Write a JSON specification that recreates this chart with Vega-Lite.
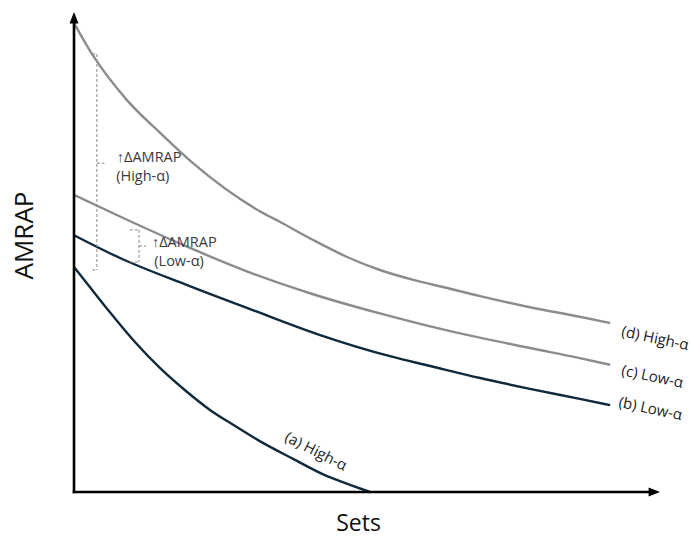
{
  "$schema": "https://vega.github.io/schema/vega-lite/v6.json",
  "width": 586,
  "height": 480,
  "autosize": {"type": "none"},
  "padding": {"left": 74, "top": 12, "right": 33, "bottom": 45},
  "background": "white",
  "config": {"view": {"stroke": null}, "font": "Open Sans"},
  "datasets": {
    "curves": [
      {"series": "d", "x": 0, "y": 97.7}, {"series": "d", "x": 0.32, "y": 91.0}, {"series": "d", "x": 0.9, "y": 81.7},
      {"series": "d", "x": 1.47, "y": 74.8}, {"series": "d", "x": 2.03, "y": 68.5}, {"series": "d", "x": 3.17, "y": 58.5},
      {"series": "d", "x": 3.52, "y": 56.25}, {"series": "d", "x": 4.08, "y": 52.5}, {"series": "d", "x": 4.66, "y": 48.96},
      {"series": "d", "x": 5.22, "y": 46.25}, {"series": "d", "x": 5.79, "y": 44.2}, {"series": "d", "x": 6.37, "y": 42.5},
      {"series": "d", "x": 6.93, "y": 40.8}, {"series": "d", "x": 7.78, "y": 38.5}, {"series": "d", "x": 8.63, "y": 36.5},
      {"series": "d", "x": 9.15, "y": 35.2},
      {"series": "c", "x": 0, "y": 61.9}, {"series": "c", "x": 0.785, "y": 57.4}, {"series": "c", "x": 1.93, "y": 51.1},
      {"series": "c", "x": 3.05, "y": 45.5}, {"series": "c", "x": 4.08, "y": 41.2}, {"series": "c", "x": 5.22, "y": 37.2},
      {"series": "c", "x": 6.42, "y": 33.5}, {"series": "c", "x": 7.78, "y": 30.0}, {"series": "c", "x": 8.63, "y": 27.9},
      {"series": "c", "x": 9.15, "y": 26.5},
      {"series": "b", "x": 0, "y": 53.5}, {"series": "b", "x": 0.785, "y": 48.75}, {"series": "b", "x": 1.93, "y": 43.1},
      {"series": "b", "x": 3.05, "y": 37.9}, {"series": "b", "x": 4.2, "y": 32.7}, {"series": "b", "x": 5.39, "y": 28.3},
      {"series": "b", "x": 6.08, "y": 26.25}, {"series": "b", "x": 6.93, "y": 23.75}, {"series": "b", "x": 7.78, "y": 21.5},
      {"series": "b", "x": 8.63, "y": 19.4}, {"series": "b", "x": 9.15, "y": 18.1},
      {"series": "a", "x": 0, "y": 46.9}, {"series": "a", "x": 0.31, "y": 42.1}, {"series": "a", "x": 0.61, "y": 37.5},
      {"series": "a", "x": 1.04, "y": 31.25}, {"series": "a", "x": 1.47, "y": 25.8}, {"series": "a", "x": 1.89, "y": 21.25},
      {"series": "a", "x": 2.32, "y": 17.1}, {"series": "a", "x": 2.75, "y": 13.75}, {"series": "a", "x": 3.17, "y": 10.6},
      {"series": "a", "x": 3.74, "y": 6.9}, {"series": "a", "x": 4.32, "y": 3.3}, {"series": "a", "x": 4.71, "y": 1.5},
      {"series": "a", "x": 5.05, "y": 0}
    ],
    "brackets": [
      {"x": 0.39, "x2": 0.39, "y": 91.25, "y2": 46.25},
      {"x": 0.31, "x2": 0.39, "y": 91.25, "y2": 91.25},
      {"x": 0.31, "x2": 0.39, "y": 46.25, "y2": 46.25},
      {"x": 0.39, "x2": 0.52, "y": 68.5, "y2": 68.5},
      {"x": 1.11, "x2": 1.11, "y": 54.6, "y2": 47.9},
      {"x": 0.95, "x2": 1.11, "y": 54.6, "y2": 54.6},
      {"x": 0.95, "x2": 1.11, "y": 47.9, "y2": 47.9},
      {"x": 1.11, "x2": 1.23, "y": 51.25, "y2": 51.25}
    ],
    "bracketText": [
      {"x": 0.73, "y": 69.6, "t": "↑ΔAMRAP"},
      {"x": 0.72, "y": 65.6, "t": "(High-α)"},
      {"x": 1.33, "y": 51.9, "t": "↑ΔAMRAP"},
      {"x": 1.37, "y": 47.9, "t": "(Low-α)"}
    ],
    "endLabels": [
      {"x": 9.35, "y": 33.5, "t": "(d) High-α"},
      {"x": 9.35, "y": 25.4, "t": "(c) Low-α"},
      {"x": 9.3, "y": 18.75, "t": "(b) Low-α"}
    ],
    "aLabel": [{"x": 4.13, "y": 8.5, "t": "(a) High-α"}],
    "axisLines": [
      {"x": 0, "x2": 0, "y": 0, "y2": 98.2},
      {"x": 0, "x2": 9.86, "y": 0, "y2": 0}
    ],
    "arrowUp": [{"x": 0, "y": 98.75}],
    "arrowRight": [{"x": 9.898, "y": 0}]
  },
  "layer": [
    {
      "data": {"name": "curves"},
      "mark": {"type": "line", "interpolate": "monotone", "strokeWidth": 2.4},
      "encoding": {
        "x": {"field": "x", "type": "quantitative", "scale": {"domain": [0, 10], "nice": false, "zero": false},
              "axis": {"title": "Sets", "domain": false, "ticks": false, "labels": false, "grid": false,
                       "titleFontSize": 23, "titleFontWeight": "normal", "titleColor": "#111", "titleBaseline": "alphabetic", "titlePadding": 38, "titleX": 284}},
        "y": {"field": "y", "type": "quantitative", "scale": {"domain": [0, 100], "nice": false, "zero": false},
              "axis": {"title": "AMRAP", "domain": false, "ticks": false, "labels": false, "grid": false,
                       "titleFontSize": 26, "titleFontWeight": "normal", "titleColor": "#111", "titlePadding": 37, "titleY": 223}},
        "color": {"field": "series", "type": "nominal",
                  "scale": {"domain": ["a", "b", "c", "d"], "range": ["#0f2a3c", "#0f2a3c", "#8c8c8c", "#8c8c8c"]},
                  "legend": null},
        "detail": {"field": "series"}
      }
    },
    {
      "data": {"name": "brackets"},
      "mark": {"type": "rule", "strokeDash": [3, 2], "strokeWidth": 1, "color": "#8c8c8c"},
      "encoding": {
        "x": {"field": "x", "type": "quantitative"},
        "x2": {"field": "x2"},
        "y": {"field": "y", "type": "quantitative"},
        "y2": {"field": "y2"}
      }
    },
    {
      "data": {"name": "bracketText"},
      "mark": {"type": "text", "align": "left", "baseline": "middle", "fontSize": 14.5, "color": "#3a3a3a"},
      "encoding": {
        "x": {"field": "x", "type": "quantitative"},
        "y": {"field": "y", "type": "quantitative"},
        "text": {"field": "t"}
      }
    },
    {
      "data": {"name": "endLabels"},
      "mark": {"type": "text", "align": "left", "baseline": "middle", "fontSize": 15, "angle": 12, "color": "#222"},
      "encoding": {
        "x": {"field": "x", "type": "quantitative"},
        "y": {"field": "y", "type": "quantitative"},
        "text": {"field": "t"}
      }
    },
    {
      "data": {"name": "aLabel"},
      "mark": {"type": "text", "align": "center", "baseline": "middle", "fontSize": 15, "angle": 27, "color": "#222"},
      "encoding": {
        "x": {"field": "x", "type": "quantitative"},
        "y": {"field": "y", "type": "quantitative"},
        "text": {"field": "t"}
      }
    },
    {
      "data": {"name": "axisLines"},
      "mark": {"type": "rule", "strokeWidth": 2.6, "color": "#000", "strokeCap": "square"},
      "encoding": {
        "x": {"field": "x", "type": "quantitative"},
        "x2": {"field": "x2"},
        "y": {"field": "y", "type": "quantitative"},
        "y2": {"field": "y2"}
      }
    },
    {
      "data": {"name": "arrowUp"},
      "mark": {"type": "point", "shape": "M0,-1L-0.75,0.9L0.75,0.9Z", "size": 144, "filled": true, "opacity": 1, "color": "#000"},
      "encoding": {
        "x": {"field": "x", "type": "quantitative"},
        "y": {"field": "y", "type": "quantitative"}
      }
    },
    {
      "data": {"name": "arrowRight"},
      "mark": {"type": "point", "shape": "M1,0L-0.9,-0.75L-0.9,0.75Z", "size": 144, "filled": true, "opacity": 1, "color": "#000"},
      "encoding": {
        "x": {"field": "x", "type": "quantitative"},
        "y": {"field": "y", "type": "quantitative"}
      }
    }
  ]
}
